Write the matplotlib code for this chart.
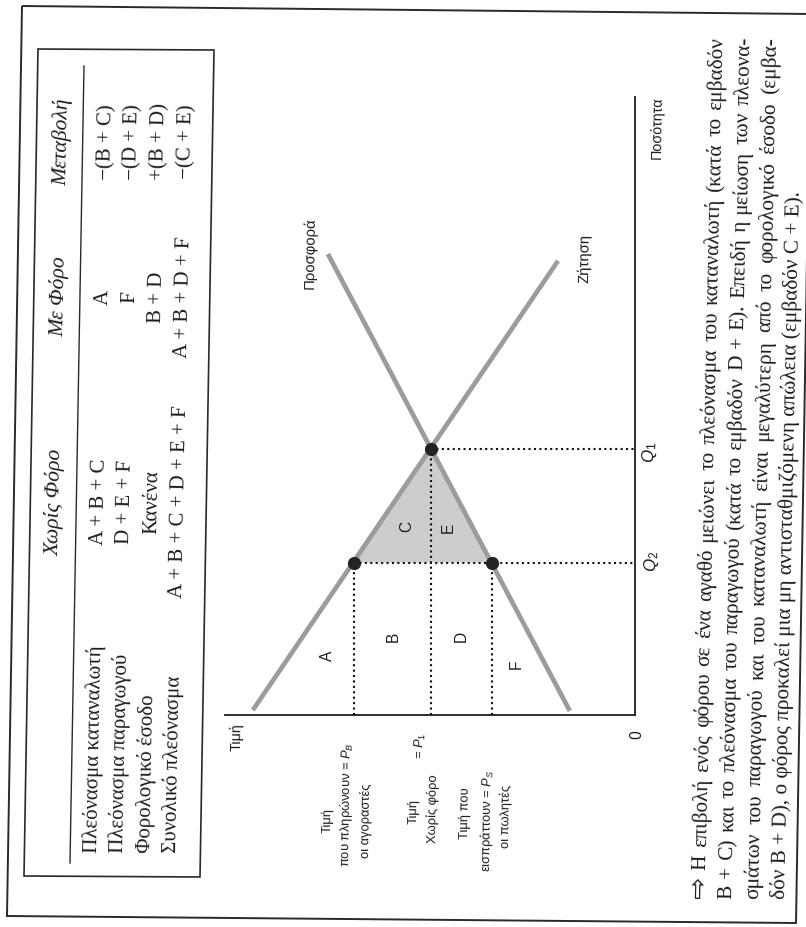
import math
import matplotlib
matplotlib.use('Agg')
import matplotlib.pyplot as plt
import matplotlib.transforms as mtransforms
from matplotlib.font_manager import FontProperties
from matplotlib.patches import Polygon
from matplotlib.lines import Line2D

# ---------------- data ----------------
P_B, P_1, P_S = 6.85, 4.98, 3.50          # buyers' price, no-tax price, sellers' price
Q_1, Q_2 = 6.45, 3.70                     # quantity without / with tax
P_MAX, Q_MAX = 10.0, 15.0
supply_p = [1.59, 7.49]
supply_q = [0.10, 11.19]
demand_p = [9.32, 1.88]
demand_q = [0.12, 11.02]
area_labels = ['A', 'B', 'C', 'D', 'E', 'F']
area_p = [7.49, 5.90, 5.56, 4.24, 4.56, 2.90]
area_q = [1.46, 1.92, 4.59, 1.92, 4.56, 1.26]

table_headers = ['Χωρίς Φόρο', 'Με Φόρο', 'Μεταβολή']
row_labels = ['Πλεόνασμα καταναλωτή', 'Πλεόνασμα παραγωγού',
              'Φορολογικό έσοδο', 'Συνολικό πλεόνασμα']
col_no_tax = ['A + B + C', 'D + E + F', 'Κανένα', 'A + B + C + D + E + F']
col_with_tax = ['A', 'F', 'B + D', 'A + B + D + F']
col_change = ['−(B + C)', '−(D + E)', '+(B + D)', '−(C + E)']

caption_lines = [
    '⇨ Η επιβολή ενός φόρου σε ένα αγαθό μειώνει το πλεόνασμα του καταναλωτή (κατά το εμβαδόν',
    'B + C) και το πλεόνασμα του παραγωγού (κατά το εμβαδόν D + E). Επειδή η μείωση των πλεονα-',
    'σμάτων του παραγωγού και του καταναλωτή είναι μεγαλύτερη από το φορολογικό έσοδο (εμβα-',
    'δόν B + D), ο φόρος προκαλεί μια μη αντισταθμιζόμενη απώλεια (εμβαδόν C + E).',
]

# ---------------- setup ----------------
plt.rcParams['mathtext.fontset'] = 'custom'
plt.rcParams['mathtext.rm'] = 'Liberation Sans'
plt.rcParams['mathtext.it'] = 'Liberation Sans:italic'

W, H = 806, 928
fig = plt.figure(figsize=(W / 100, H / 100), dpi=100)
fig.patch.set_facecolor('white')
T = mtransforms.Affine2D().scale(1 / W, -1 / H).translate(0, 1) + fig.transFigure
R = fig.canvas.get_renderer()

SERIF = 'Liberation Serif'
SANS = 'Liberation Sans'
PHI = 1.2
SN, CS = math.sin(math.radians(PHI)), math.cos(math.radians(PHI))
ROT = 90 - PHI
INK = '#1c1c1c'


def fp(family, size, style='normal'):
    return FontProperties(family=family, size=size, style=style)


def tw(s, prop):
    w, h, d = R.get_text_width_height_descent(s, prop, ismath=False)
    return w


def fit(s, target, family, style='normal', base=14.0):
    return base * target / tw(s, fp(family, base, style))


# ---------------- frame & table box ----------------
fig.add_artist(Polygon([(22, 7), (811, 15), (796, 924), (7, 917)], closed=True,
                       fill=False, transform=T, lw=1.4, ec='#2a2a2a'))
fig.add_artist(Polygon([(38, 50), (214, 51), (200, 878), (24, 877)], closed=True,
                       fill=False, transform=T, lw=1.2, ec='#2a2a2a'))
fig.add_artist(Line2D([84, 70], [67, 864], transform=T, lw=1.0, color='#2a2a2a'))

# ---------------- table text ----------------
tab_fs = fit(row_labels[0], 853 - 644, SERIF)
hdr_fs = fit(table_headers[0], 107, SERIF, 'italic')
tab_px = tab_fs * 100 / 72
hdr_px = hdr_fs * 100 / 72
TT = SN / CS


def tx(x500, y):
    return x500 - TT * (y - 500)


hdr_x500 = 54
row_x500 = [98.5, 124.5, 151.5, 178]
col_y = [502, 297, 142]

for hdr, cy in zip(table_headers, col_y):
    fig.text(tx(hdr_x500, cy) + 0.27 * hdr_px, cy, hdr, transform=T, rotation=ROT,
             rotation_mode='anchor', ha='center', va='baseline',
             fontproperties=fp(SERIF, hdr_fs, 'italic'), color=INK)

for i, xr in enumerate(row_x500):
    y0 = 853
    fig.text(tx(xr, y0) + 0.27 * tab_px, y0, row_labels[i], transform=T, rotation=ROT,
             rotation_mode='anchor', ha='left', va='baseline',
             fontproperties=fp(SERIF, tab_fs), color=INK)
    for col, cy in zip([col_no_tax, col_with_tax, col_change], col_y):
        fig.text(tx(xr, cy) + 0.27 * tab_px, cy, col[i], transform=T, rotation=ROT,
                 rotation_mode='anchor', ha='center', va='baseline',
                 fontproperties=fp(SERIF, tab_fs), color=INK)

# ---------------- caption (justified) ----------------
cap_fs = fit(caption_lines[3], 899 - 187, SERIF)
cap_px = cap_fs * 100 / 72
cap_prop = fp(SERIF, cap_fs)
arrow_prop = fp('DejaVu Sans', cap_fs * 1.25)
cap_x = [699, 726, 753, 779]
Y0 = 899
LINE_LEN = 899 - 37


def prop_for(w):
    return arrow_prop if w == '⇨' else cap_prop


for i, line in enumerate(caption_lines):
    bx = cap_x[i] + 0.27 * cap_px
    if i < 3:
        words = line.split(' ')
        ws = [tw(w, prop_for(w)) for w in words]
        gap = (LINE_LEN - sum(ws)) / (len(words) - 1)
        d = 0.0
        for w, wd in zip(words, ws):
            xo = 1.5 if w == '⇨' else 0.0
            fig.text(bx + xo + d * SN, Y0 - d * CS, w, transform=T, rotation=ROT,
                     rotation_mode='anchor', ha='left', va='baseline',
                     fontproperties=prop_for(w), color=INK)
            d += wd + gap
    else:
        fig.text(bx, Y0, line, transform=T, rotation=ROT, rotation_mode='anchor',
                 ha='left', va='baseline', fontproperties=cap_prop, color=INK)

# ---------------- chart ----------------
ax = fig.add_axes([225 / W, 1 - 716 / H, 410 / W, 618 / H])
ax.set_xlim(P_MAX, 0)
ax.set_ylim(0, Q_MAX)
ax.patch.set_alpha(0)
for s in ['top', 'left']:
    ax.spines[s].set_visible(False)
for s in ['bottom', 'right']:
    ax.spines[s].set_linewidth(1.3)
    ax.spines[s].set_color('#1e1e1e')
ax.set_xticks([])
ax.set_yticks([])

ax.fill([P_B, P_1, P_S], [Q_2, Q_1, Q_2], color='#cdcdcd', lw=0, zorder=1)
ax.plot(supply_p, supply_q, color='#9c9c9c', lw=3.4, solid_capstyle='butt', zorder=2)
ax.plot(demand_p, demand_q, color='#9c9c9c', lw=3.4, solid_capstyle='butt', zorder=2)

dot_style = dict(color='#111111', lw=1.5, ls=(0, (1, 1.6)), zorder=3)
ax.plot([P_B, P_B], [0, Q_2], **dot_style)
ax.plot([P_1, P_1], [0, Q_1], **dot_style)
ax.plot([P_S, P_S], [0, Q_2], **dot_style)
ax.plot([P_B, 0], [Q_2, Q_2], **dot_style)
ax.plot([P_1, 0], [Q_1, Q_1], **dot_style)
ax.plot([P_B, P_1, P_S], [Q_2, Q_1, Q_2], 'o', ms=8.5, color='#232323', zorder=5)

ch_fs = fit('που πληρώνουν', 94, SANS)
ch_px = ch_fs * 100 / 72
for lab, p, q in zip(area_labels, area_p, area_q):
    ax.text(p, q, lab, rotation=90, ha='center', va='center', fontsize=ch_fs * 1.2,
            family=SANS, color=INK)

CH_ROT = 89.2


def ctext(x, y, s, ha='center', va='center', size=None):
    fig.text(x, y, s, transform=T, rotation=CH_ROT, rotation_mode='anchor', ha=ha,
             va=va, fontsize=size or ch_fs, family=SANS, color=INK)


ctext(310, 253, 'Προσφορά', size=fit('Προσφορά', 72, SANS))
ctext(585, 258, 'Ζήτηση', size=fit('Προσφορά', 72, SANS))
ctext(657, 128, 'Ποσότητα', size=fit('Ποσότητα', 63, SANS))
ctext(650, 452, '$Q_1$', size=ch_fs * 1.3)
ctext(652, 561, '$Q_2$', size=ch_fs * 1.3)
ctext(637, 735, '0', size=ch_fs * 1.2)
ctext(237, 737, 'Τιμή', size=ch_fs * 1.1)

# price labels (baseline-anchored)
b = 0.27 * ch_px
ctext(327 + b, 821, 'Τιμή', va='baseline')
ctext(346 + b, 867, 'που πληρώνουν = $P_B$', ha='left', va='baseline')
ctext(366 + b, 821, 'οι αγοραστές', va='baseline')

ctext(413 + b, 812, 'Τιμή', va='baseline')
ctext(433 + b, 809, 'Χωρίς φόρο', va='baseline')
ctext(420 + b, 759, '= $P_1$', ha='left', va='baseline')

ctext(465 + b, 813, 'Τιμή που', va='baseline')
ctext(487 + b, 872, 'εισπράττουν = $P_S$', ha='left', va='baseline')
ctext(506 + b, 816, 'οι πωλητές', va='baseline')

fig.savefig('out.png', dpi=100, facecolor='white')
